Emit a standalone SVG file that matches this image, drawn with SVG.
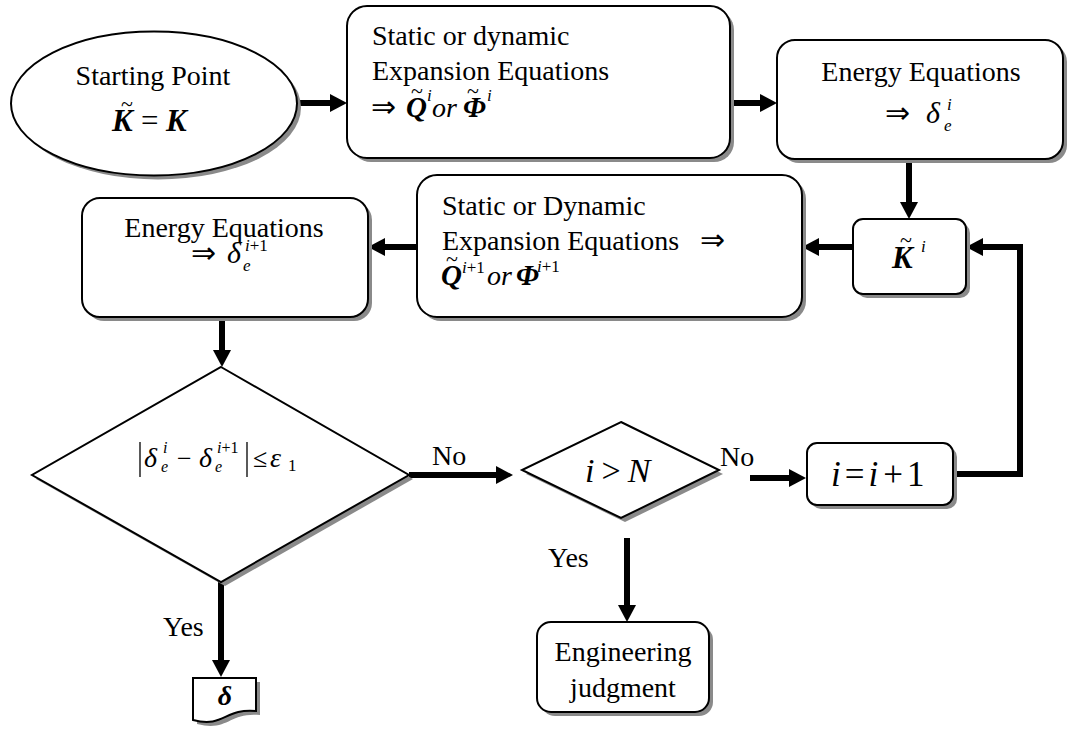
<svg xmlns="http://www.w3.org/2000/svg" width="1067" height="729" viewBox="0 0 1067 729">
<style>
.sh{fill:#8a8a8a;stroke:none}
.nd{fill:#fff;stroke:#000;stroke-width:2}
.t{font-family:"Liberation Serif","DejaVu Serif",serif;font-size:28px;fill:#000}
.m{font-family:"Liberation Serif","DejaVu Serif",serif;fill:#000}
.ar{font-family:"DejaVu Sans",sans-serif;font-weight:200;font-size:30px;fill:#000}
.it{font-style:italic}
.bi{font-style:italic;font-weight:bold}
.c{stroke:#000;stroke-width:6;fill:none}
</style>
<defs>
<marker id="ah" markerUnits="userSpaceOnUse" markerWidth="18" markerHeight="18" refX="0" refY="9" orient="auto" viewBox="0 0 18 18">
<path d="M0,0 L17,9 L0,18 Z" fill="#000"/>
</marker>
</defs>
<rect width="1067" height="729" fill="#fff"/>

<g id="connectors">
<path class="c" d="M297,103 H330" marker-end="url(#ah)"/>
<path class="c" d="M730,103 H760" marker-end="url(#ah)"/>
<path class="c" d="M909,159 V202" marker-end="url(#ah)"/>
<path class="c" d="M853,247 H819" marker-end="url(#ah)"/>
<path class="c" d="M417,247 H385" marker-end="url(#ah)"/>
<path class="c" d="M222,317 V350" marker-end="url(#ah)"/>
<path class="c" d="M409,475 H496" marker-end="url(#ah)"/>
<path class="c" d="M750,478 H789" marker-end="url(#ah)"/>
<path class="c" d="M953,474 H1020 V247 H983" marker-end="url(#ah)"/>
<path class="c" d="M221,582 V660" marker-end="url(#ah)"/>
<path class="c" d="M627,538 V605" marker-end="url(#ah)"/>
</g>

<g id="start">
<ellipse class="sh" cx="158" cy="107.5" rx="143" ry="72"/>
<ellipse class="nd" cx="154" cy="103.5" rx="143" ry="72"/>
<text class="t" x="153" y="85" text-anchor="middle">Starting Point</text>
<text class="m bi" x="112" y="131" font-size="31">K</text>
<text class="m" x="141" y="131" font-size="31">=</text>
<text class="m bi" x="166" y="131" font-size="31">K</text>
<text class="m" x="121" y="111" font-size="22">~</text>
</g>

<g id="expansion1">
<rect class="sh" x="351" y="10" width="383" height="152" rx="20"/>
<rect class="nd" x="347" y="6" width="383" height="152" rx="20"/>
<text class="t" x="372" y="45">Static or dynamic</text>
<text class="t" x="372" y="80">Expansion Equations</text>
<text class="ar" x="371" y="117">⇒</text>
<text class="m bi" x="406" y="117" font-size="29">Q</text>
<text class="m" x="411" y="98" font-size="22">~</text>
<text class="m it" x="427" y="101" font-size="17">i</text>
<text class="m it" x="432" y="117" font-size="28">or</text>
<text class="m bi" x="463" y="117" font-size="29">Φ</text>
<text class="m" x="467" y="98" font-size="22">~</text>
<text class="m it" x="487" y="101" font-size="17">i</text>
</g>

<g id="energy1">
<rect class="sh" x="781" y="44" width="286" height="119" rx="18"/>
<rect class="nd" x="777" y="40" width="286" height="119" rx="18"/>
<text class="t" x="921" y="81" text-anchor="middle">Energy Equations</text>
<text class="ar" x="885" y="123">⇒</text>
<text class="m it" x="926" y="123" font-size="30">δ</text>
<text class="m it" x="947" y="110" font-size="17">i</text>
<text class="m it" x="944" y="131" font-size="17">e</text>
</g>

<g id="kmatrix">
<rect class="sh" x="857" y="223" width="113" height="75" rx="10"/>
<rect class="nd" x="853" y="219" width="113" height="75" rx="10"/>
<text class="m bi" x="892" y="268" font-size="31">K</text>
<text class="m it" x="921" y="252" font-size="17">i</text>
<text class="m" x="900" y="247" font-size="22">~</text>
</g>

<g id="expansion2">
<rect class="sh" x="421" y="179" width="385" height="142" rx="20"/>
<rect class="nd" x="417" y="175" width="385" height="142" rx="20"/>
<text class="t" x="442" y="215">Static or Dynamic</text>
<text class="t" x="442" y="250">Expansion Equations</text>
<text class="ar" x="700" y="250">⇒</text>
<text class="m bi" x="441" y="285" font-size="29">Q</text>
<text class="m" x="446" y="266" font-size="22">~</text>
<text class="m" x="462" y="273" font-size="17"><tspan class="it">i</tspan>+1</text>
<text class="m it" x="487" y="285" font-size="28">or</text>
<text class="m bi" x="516" y="285" font-size="29">Φ</text>
<text class="m" x="537" y="272" font-size="17"><tspan class="it">i</tspan>+1</text>
</g>

<g id="energy2">
<rect class="sh" x="86" y="202" width="286" height="119" rx="18"/>
<rect class="nd" x="82" y="198" width="286" height="119" rx="18"/>
<text class="t" x="224" y="237" text-anchor="middle">Energy Equations</text>
<text class="ar" x="191" y="263">⇒</text>
<text class="m it" x="227" y="263" font-size="30">δ</text>
<text class="m" x="245" y="251" font-size="17"><tspan class="it">i</tspan>+1</text>
<text class="m it" x="243" y="271" font-size="17">e</text>
</g>

<g id="check">
<polygon class="sh" points="225,371 413,479 225,586 36,479"/>
<polygon class="nd" points="221,367 409,475 221,582 32,475"/>
<line x1="140" y1="442" x2="140" y2="477" stroke="#000" stroke-width="1.3"/>
<line x1="247" y1="442" x2="247" y2="477" stroke="#000" stroke-width="1.3"/>
<text class="m it" x="144" y="467" font-size="28">δ</text>
<text class="m it" x="163" y="453" font-size="16">i</text>
<text class="m it" x="161" y="472" font-size="16">e</text>
<text class="m" x="177" y="467" font-size="26">−</text>
<text class="m it" x="199" y="467" font-size="28">δ</text>
<text class="m" x="217" y="453" font-size="16"><tspan class="it">i</tspan>+1</text>
<text class="m it" x="215" y="472" font-size="16">e</text>
<text class="m" x="253" y="467" font-size="26">≤</text>
<text class="m it" x="270" y="467" font-size="28">ε</text>
<text class="m" x="288" y="471" font-size="17">1</text>
</g>

<text class="t" x="432" y="465">No</text>

<g id="limit">
<polygon class="sh" points="625,426 723,474 625,522 526,474"/>
<polygon class="nd" points="621,422 719,470 621,518 522,470"/>
<text class="m" x="585" y="482" font-size="34"><tspan class="it">i</tspan><tspan dx="7">&gt;</tspan><tspan class="it" dx="7">N</tspan></text>
</g>

<text class="t" x="720" y="466">No</text>

<g id="increment">
<rect class="sh" x="811" y="447" width="146" height="62" rx="10"/>
<rect class="nd" x="807" y="443" width="146" height="62" rx="10"/>
<text class="m" x="831" y="486" font-size="35"><tspan class="it">i</tspan><tspan dx="4">=</tspan><tspan class="it" dx="4">i</tspan><tspan dx="5">+</tspan><tspan dx="4">1</tspan></text>
</g>

<text class="t" x="163" y="636">Yes</text>
<text class="t" x="548" y="567">Yes</text>

<g id="result">
<path class="sh" d="M197,682 H260 V715 C228.5,712 228.5,732 197,724 Z"/>
<path class="nd" d="M193,678 H256 V711 C224.5,708 224.5,728 193,720 Z"/>
<text class="m bi" x="225" y="705" font-size="28" text-anchor="middle">δ</text>
</g>

<g id="judgment">
<rect class="sh" x="541" y="626" width="172" height="90" rx="14"/>
<rect class="nd" x="537" y="622" width="172" height="90" rx="14"/>
<text class="t" x="623" y="661" text-anchor="middle">Engineering</text>
<text class="t" x="623" y="697" text-anchor="middle">judgment</text>
</g>
</svg>
